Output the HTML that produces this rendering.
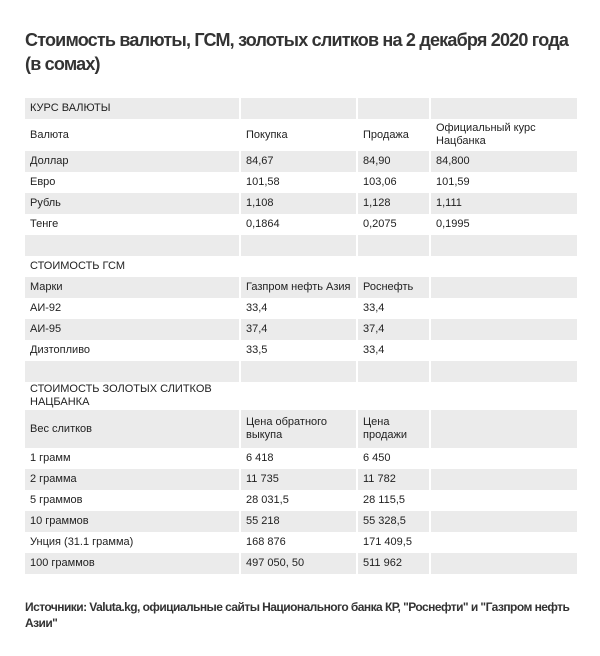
<!DOCTYPE html>
<html><head><meta charset="utf-8"><style>
body{margin:0;background:#fff;width:600px;height:656px;overflow:hidden;font-family:"Liberation Sans",Arial,sans-serif;color:#333;}
h1{position:absolute;left:25px;top:28px;margin:0;width:575px;font-size:18px;line-height:24px;font-weight:bold;color:#333;letter-spacing:-0.8px;white-space:nowrap;}
table{position:absolute;left:25px;top:98px;width:552px;border-collapse:collapse;font-size:11px;color:#222;}
td{padding:0 0 0 5px;border-right:2px solid #fff;vertical-align:middle;line-height:13px;height:21px;}
td:last-child{border-right:none}
tr:nth-child(odd) td{background:#ebebeb;}
.c1{width:209px}.c2{width:110px}.c3{width:66px}
.src{position:absolute;left:25px;top:599px;width:575px;font-size:12px;font-weight:bold;line-height:16px;color:#333;letter-spacing:-0.55px;}
</style></head><body>
<h1>Стоимость валюты, ГСМ, золотых слитков на 2 декабря 2020 года<br>(в сомах)</h1>
<table>
<tr><td class="c1">КУРС ВАЛЮТЫ</td><td class="c2"></td><td class="c3"></td><td></td></tr>
<tr><td style="height:32px">Валюта</td><td>Покупка</td><td>Продажа</td><td>Официальный курс<br>Нацбанка</td></tr>
<tr><td>Доллар</td><td>84,67</td><td>84,90</td><td>84,800</td></tr>
<tr><td>Евро</td><td>101,58</td><td>103,06</td><td>101,59</td></tr>
<tr><td>Рубль</td><td>1,108</td><td>1,128</td><td>1,111</td></tr>
<tr><td>Тенге</td><td>0,1864</td><td>0,2075</td><td>0,1995</td></tr>
<tr><td></td><td></td><td></td><td></td></tr>
<tr><td>СТОИМОСТЬ ГСМ</td><td></td><td></td><td></td></tr>
<tr><td>Марки</td><td>Газпром нефть Азия</td><td>Роснефть</td><td></td></tr>
<tr><td>АИ-92</td><td>33,4</td><td>33,4</td><td></td></tr>
<tr><td>АИ-95</td><td>37,4</td><td>37,4</td><td></td></tr>
<tr><td>Дизтопливо</td><td>33,5</td><td>33,4</td><td></td></tr>
<tr><td></td><td></td><td></td><td></td></tr>
<tr><td style="height:28px">СТОИМОСТЬ ЗОЛОТЫХ СЛИТКОВ<br>НАЦБАНКА</td><td></td><td></td><td></td></tr>
<tr><td style="height:38px">Вес слитков</td><td>Цена обратного<br>выкупа</td><td>Цена<br>продажи</td><td></td></tr>
<tr><td>1 грамм</td><td>6 418</td><td>6 450</td><td></td></tr>
<tr><td>2 грамма</td><td>11 735</td><td>11 782</td><td></td></tr>
<tr><td>5 граммов</td><td>28 031,5</td><td>28 115,5</td><td></td></tr>
<tr><td>10 граммов</td><td>55 218</td><td>55 328,5</td><td></td></tr>
<tr><td>Унция (31.1 грамма)</td><td>168 876</td><td>171 409,5</td><td></td></tr>
<tr><td>100 граммов</td><td>497 050, 50</td><td>511 962</td><td></td></tr>
</table>
<div class="src">Источники: Valuta.kg, официальные сайты Национального банка КР, "Роснефти" и "Газпром нефть<br>Азии"</div>
</body></html>
